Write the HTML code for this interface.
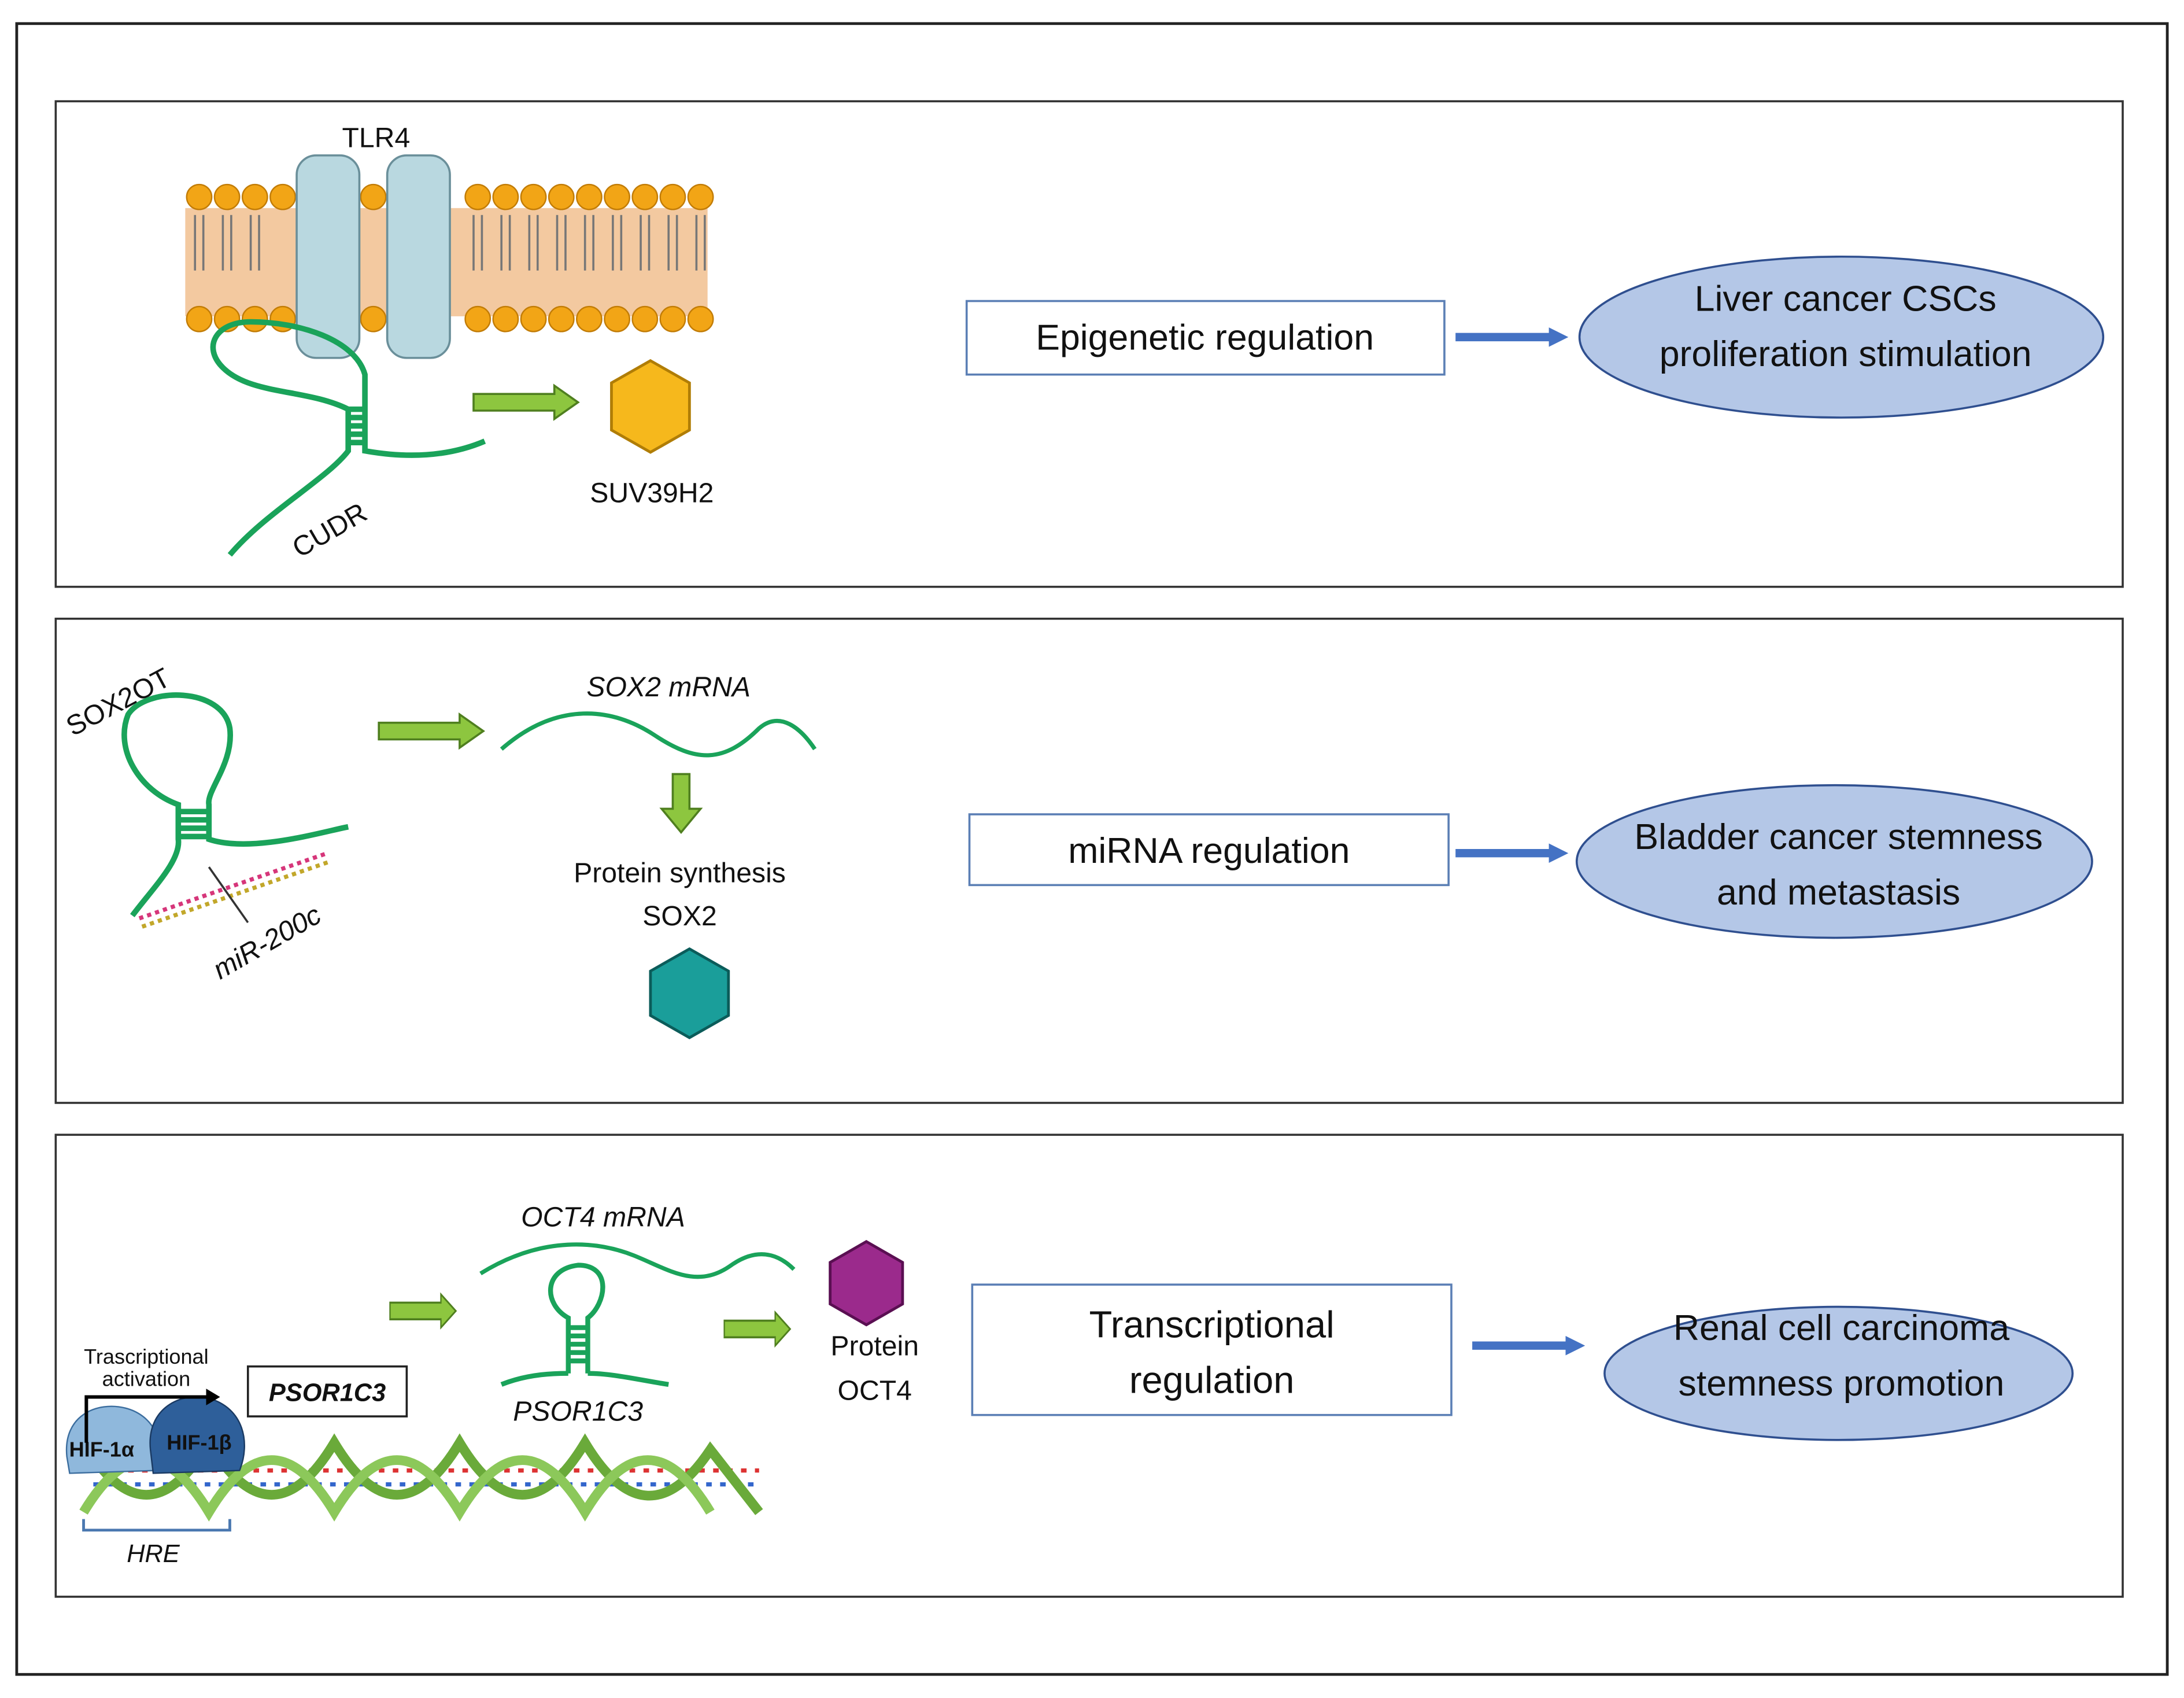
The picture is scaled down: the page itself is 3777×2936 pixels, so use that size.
<!DOCTYPE html>
<html><head><meta charset="utf-8"><style>
html,body{margin:0;padding:0;background:#fff}
svg{display:block}
text{font-family:"Liberation Sans","DejaVu Sans",sans-serif;fill:#111}
</style></head><body>
<svg width="3777" height="2936" viewBox="0 0 1568 1224" preserveAspectRatio="none" xmlns="http://www.w3.org/2000/svg">
<defs>
<marker id="ba" markerWidth="14" markerHeight="14" refX="4" refY="7" orient="auto" markerUnits="userSpaceOnUse"><path d="M0,0 L14,7 L0,14 z" fill="#4472c4"/></marker>
<g id="garrow"><path d="M0,-6 L58,-6 L58,-12 L75,0 L58,12 L58,6 L0,6 z" fill="#8dc63f" stroke="#4f7f1f" stroke-width="1.5"/></g>
</defs>
<rect x="12" y="17" width="1544" height="1190" fill="#fff" stroke="#222" stroke-width="2"/>
<rect x="40" y="73" width="1484" height="350" fill="none" stroke="#333" stroke-width="1.5"/>
<rect x="40" y="446" width="1484" height="349" fill="none" stroke="#333" stroke-width="1.5"/>
<rect x="40" y="818" width="1484" height="333" fill="none" stroke="#333" stroke-width="1.5"/>

<!-- Panel 1 membrane -->
<rect x="133" y="150" width="375" height="78" fill="#f3c9a0"/>
<g fill="#f2a516" stroke="#c27c06" stroke-width="1">
<circle cx="143" cy="142" r="9"/><circle cx="163" cy="142" r="9"/><circle cx="183" cy="142" r="9"/><circle cx="203" cy="142" r="9"/><circle cx="343" cy="142" r="9"/><circle cx="363" cy="142" r="9"/><circle cx="383" cy="142" r="9"/><circle cx="403" cy="142" r="9"/><circle cx="423" cy="142" r="9"/><circle cx="443" cy="142" r="9"/><circle cx="463" cy="142" r="9"/><circle cx="483" cy="142" r="9"/><circle cx="503" cy="142" r="9"/><circle cx="268" cy="142" r="9"/>
<circle cx="143" cy="230" r="9"/><circle cx="163" cy="230" r="9"/><circle cx="183" cy="230" r="9"/><circle cx="203" cy="230" r="9"/><circle cx="343" cy="230" r="9"/><circle cx="363" cy="230" r="9"/><circle cx="383" cy="230" r="9"/><circle cx="403" cy="230" r="9"/><circle cx="423" cy="230" r="9"/><circle cx="443" cy="230" r="9"/><circle cx="463" cy="230" r="9"/><circle cx="483" cy="230" r="9"/><circle cx="503" cy="230" r="9"/><circle cx="268" cy="230" r="9"/>
</g>
<g stroke="#777" stroke-width="1.5" fill="none">
<path d="M140,155v40M146,155v40M160,155v40M166,155v40M180,155v40M186,155v40M340,155v40M346,155v40M360,155v40M366,155v40M380,155v40M386,155v40M400,155v40M406,155v40M420,155v40M426,155v40M440,155v40M446,155v40M460,155v40M466,155v40M480,155v40M486,155v40M500,155v40M506,155v40"/>
</g>
<rect x="213" y="112" width="45" height="146" rx="14" fill="#b9d8e0" stroke="#6a8f9a" stroke-width="1.5"/>
<rect x="278" y="112" width="45" height="146" rx="14" fill="#b9d8e0" stroke="#6a8f9a" stroke-width="1.5"/>
<text x="270" y="106" font-size="20" text-anchor="middle">TLR4</text>
<g stroke="#1aa35a" stroke-width="4" fill="none">
<path d="M165,400 C190,370 235,345 250,325 L250,295 C220,280 180,285 160,265 C145,250 155,232 180,232 C215,232 255,245 262,270 L262,295 L262,325 C290,330 320,330 348,318"/>
<path d="M250,295h12M250,301h12M250,307h12M250,313h12M250,319h12"/>
</g>
<text x="240" y="388" font-size="20" transform="rotate(-30 240 388)" text-anchor="middle">CUDR</text>
<use href="#garrow" x="340" y="290"/>
<polygon points="467,260 495,276 495,310 467,326 439,310 439,276" fill="#f6b81c" stroke="#b07d06" stroke-width="2"/>
<text x="468" y="362" font-size="20" text-anchor="middle">SUV39H2</text>
<rect x="694" y="217" width="343" height="53" fill="#fff" stroke="#5b7fb5" stroke-width="1.5"/>
<text x="865" y="252" font-size="26" text-anchor="middle">Epigenetic regulation</text>
<line x1="1045" y1="243" x2="1116" y2="243" stroke="#4472c4" stroke-width="6" marker-end="url(#ba)"/>
<ellipse cx="1322" cy="243" rx="188" ry="58" fill="#b4c7e7" stroke="#2f4f8f" stroke-width="1.5"/>
<text x="1325" y="224" font-size="26" text-anchor="middle">Liver cancer CSCs</text>
<text x="1325" y="264" font-size="26" text-anchor="middle">proliferation stimulation</text>

<!-- Panel 2 -->
<text x="88" y="512" font-size="20" transform="rotate(-28 88 512)" text-anchor="middle">SOX2OT</text>
<g stroke="#1aa35a" stroke-width="4" fill="none">
<path d="M95,660 C110,640 130,620 128,605 L128,580 C100,570 82,540 92,515 C105,495 160,495 165,525 C168,550 148,570 150,580 L150,605 C180,615 230,600 250,596"/>
<path d="M128,585h22M128,591h22M128,597h22M128,603h22"/>
</g>
<g stroke-width="3">
<path d="M100,662 L235,615" stroke="#d6367a" stroke-dasharray="3 3"/>
<path d="M102,668 L237,621" stroke="#c2a72a" stroke-dasharray="3 3"/>
</g>
<line x1="150" y1="625" x2="178" y2="665" stroke="#333" stroke-width="1.5"/>
<text x="195" y="685" font-size="20" font-style="italic" transform="rotate(-30 195 685)" text-anchor="middle">miR-200c</text>
<use href="#garrow" x="272" y="527"/>
<text x="480" y="502" font-size="20" font-style="italic" text-anchor="middle">SOX2 mRNA</text>
<path d="M360,540 C400,505 440,510 470,530 C500,550 520,550 545,525 C560,512 575,525 585,540" stroke="#1aa35a" stroke-width="3" fill="none"/>
<path d="M483,558 h12 v25 h8 l-14,17 l-14,-17 h8 z" fill="#8dc63f" stroke="#4f7f1f" stroke-width="1.5"/>
<text x="488" y="636" font-size="20" text-anchor="middle">Protein synthesis</text>
<text x="488" y="667" font-size="20" text-anchor="middle">SOX2</text>
<polygon points="495,684 523,700 523,732 495,748 467,732 467,700" fill="#1a9e9a" stroke="#0b5c5a" stroke-width="2"/>
<rect x="696" y="587" width="344" height="51" fill="#fff" stroke="#5b7fb5" stroke-width="1.5"/>
<text x="868" y="622" font-size="26" text-anchor="middle">miRNA regulation</text>
<line x1="1045" y1="615" x2="1116" y2="615" stroke="#4472c4" stroke-width="6" marker-end="url(#ba)"/>
<ellipse cx="1317" cy="621" rx="185" ry="55" fill="#b4c7e7" stroke="#2f4f8f" stroke-width="1.5"/>
<text x="1320" y="612" font-size="26" text-anchor="middle">Bladder cancer stemness</text>
<text x="1320" y="652" font-size="26" text-anchor="middle">and metastasis</text>

<!-- Panel 3 -->
<text x="433" y="884" font-size="20" font-style="italic" text-anchor="middle">OCT4 mRNA</text>
<path d="M345,918 C390,890 430,895 455,905 C480,915 500,930 525,912 C545,898 560,905 570,915" stroke="#1aa35a" stroke-width="3" fill="none"/>
<g stroke="#1aa35a" stroke-width="3.5" fill="none">
<path d="M408,990 L408,950 C390,940 390,915 415,912 C440,912 435,940 422,950 L422,990"/>
<path d="M360,998 C380,990 400,990 408,990 M422,990 C440,990 460,995 480,998"/>
<path d="M408,957h14M408,963h14M408,969h14M408,975h14M408,981h14"/>
</g>
<text x="415" y="1024" font-size="20" font-style="italic" text-anchor="middle">PSOR1C3</text>
<use href="#garrow" x="280" y="945" transform="translate(280,945) scale(0.63,1) translate(-280,-945)"/>
<use href="#garrow" x="520" y="958" transform="translate(520,958) scale(0.63,1) translate(-520,-958)"/>
<polygon points="622,895 648,910 648,940 622,955 596,940 596,910" fill="#9b2a8c" stroke="#5a0f52" stroke-width="2"/>
<text x="628" y="977" font-size="20" text-anchor="middle">Protein</text>
<text x="628" y="1009" font-size="20" text-anchor="middle">OCT4</text>
<rect x="698" y="926" width="344" height="94" fill="#fff" stroke="#5b7fb5" stroke-width="1.5"/>
<text x="870" y="964" font-size="27" text-anchor="middle">Transcriptional</text>
<text x="870" y="1004" font-size="27" text-anchor="middle">regulation</text>
<line x1="1057" y1="970" x2="1128" y2="970" stroke="#4472c4" stroke-width="6" marker-end="url(#ba)"/>
<ellipse cx="1320" cy="990" rx="168" ry="48" fill="#b4c7e7" stroke="#2f4f8f" stroke-width="1.5"/>
<text x="1322" y="966" font-size="26" text-anchor="middle">Renal cell carcinoma</text>
<text x="1322" y="1006" font-size="26" text-anchor="middle">stemness promotion</text>
<g stroke-width="3">
<path d="M62,1060 L545,1060" stroke="#d33" stroke-dasharray="4 6"/>
<path d="M62,1070 L545,1070" stroke="#36c" stroke-dasharray="4 6" stroke-dashoffset="5"/>
</g>
<path d="M60,1040 C90,1090 120,1090 150,1040 C180,1090 210,1090 240,1040 C270,1090 300,1090 330,1040 C360,1090 390,1090 420,1040 C450,1090 480,1090 510,1045 L545,1090" stroke="#6aaa3a" stroke-width="7" fill="none"/>
<path d="M60,1090 C90,1040 120,1040 150,1090 C180,1040 210,1040 240,1090 C270,1040 300,1040 330,1090 C360,1040 390,1040 420,1090 C450,1040 480,1040 510,1090" stroke="#8cc85a" stroke-width="7" fill="none"/>
<path d="M48,1050 C45,1020 70,1010 90,1015 C110,1020 120,1040 112,1060 L50,1062 z" fill="#8fb8dc" stroke="#3b6d9e"/>
<path d="M108,1045 C105,1015 130,1003 150,1008 C175,1015 180,1040 172,1060 L110,1062 z" fill="#2e5f9a" stroke="#1a3a63"/>
<text x="73" y="1050" font-size="15" font-weight="bold" text-anchor="middle">HIF-1α</text>
<text x="143" y="1045" font-size="15" font-weight="bold" text-anchor="middle">HIF-1β</text>
<path d="M62,1040 L62,1007 L148,1007" stroke="#000" stroke-width="2.5" fill="none"/>
<path d="M148,1001 L158,1007 L148,1013 z"/>
<text x="105" y="983" font-size="15" text-anchor="middle">Trascriptional</text>
<text x="105" y="999" font-size="15" text-anchor="middle">activation</text>
<rect x="178" y="985" width="114" height="36" fill="#fff" stroke="#222" stroke-width="1.5"/>
<text x="235" y="1010" font-size="18" font-weight="bold" font-style="italic" text-anchor="middle">PSOR1C3</text>
<path d="M60,1095 L60,1103 L165,1103 L165,1095" stroke="#4a78b0" stroke-width="2" fill="none"/>
<text x="110" y="1126" font-size="18" font-style="italic" text-anchor="middle">HRE</text>
</svg>
</body></html>
